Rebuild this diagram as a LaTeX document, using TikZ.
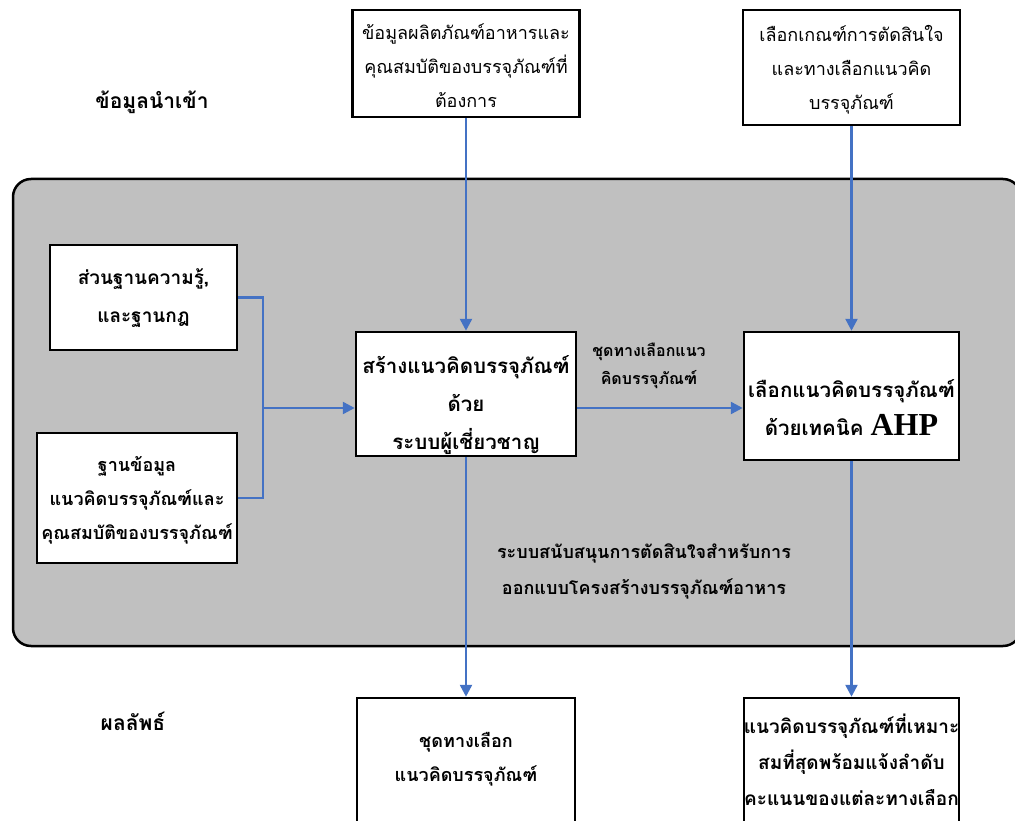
\documentclass[tikz,border=0pt]{standalone}
\usepackage{fontspec}
\setmainfont{Liberation Serif}
\newfontfamily\thai[Script=Thai]{Loma}
\usetikzlibrary{arrows.meta}
\definecolor{flowblue}{RGB}{68,114,196}
\definecolor{panelgray}{RGB}{192,192,192}
\begin{document}
\begin{tikzpicture}[x=1pt,y=-1pt,
  box/.style={draw=black, line width=2.5pt, fill=white, inner sep=0pt},
  txt/.style={align=center, inner sep=0pt, font=\thai\fontsize{18}{34}\selectfont},
  btxt/.style={align=center, inner sep=0pt, font=\thai\bfseries\fontsize{18}{34}\selectfont},
  bigtxt/.style={align=center, inner sep=0pt, font=\thai\bfseries\fontsize{20.5}{38}\selectfont},
  flow/.style={draw=flowblue, line width=2.5pt, -{Triangle[length=12pt,width=12pt]}},
  link/.style={draw=flowblue, line width=2.5pt}]
\useasboundingbox (0,0) rectangle (1015,821);
\begin{scope}
\clip (0,0) rectangle (1015,821);
% panel
\draw[line width=2.5pt, fill=panelgray, rounded corners=18pt] (13,179) rectangle (1021,646);
% boxes
\node[box, minimum width=227pt, minimum height=107pt] (top1) at (466,63.5) {};
\node[box, minimum width=217pt, minimum height=115pt] (top2) at (851.5,67.5) {};
\node[box, minimum width=187pt, minimum height=105pt] (left1) at (143.5,297.5) {};
\node[box, minimum width=200pt, minimum height=130pt] (left2) at (137,498) {};
\node[box, minimum width=220pt, minimum height=124pt] (center) at (466,394) {};
\node[box, minimum width=215pt, minimum height=128pt] (right) at (851.5,396) {};
\node[box, minimum width=218pt, minimum height=150pt] (bot3) at (466,773) {};
\node[box, minimum width=215pt, minimum height=150pt] (bot4) at (851.5,773) {};
% texts in boxes
\node[txt] (top1t) at (466,66) {ข้อมูลผลิตภัณฑ์อาหารและ\\คุณสมบัติของบรรจุภัณฑ์ที่\\ต้องการ};
\node[txt] (top2t) at (851.5,70) {เลือกเกณฑ์การตัดสินใจ\\และทางเลือกแนวคิด\\บรรจุภัณฑ์};
\node[btxt, font=\thai\bfseries\fontsize{19}{38}\selectfont] (left1t) at (143.5,298) {ส่วนฐานความรู้,\\และฐานกฎ};
\node[btxt] (left2t) at (137,500) {ฐานข้อมูล\\แนวคิดบรรจุภัณฑ์และ\\คุณสมบัติของบรรจุภัณฑ์};
\node[bigtxt] (centert) at (466,405) {สร้างแนวคิดบรรจุภัณฑ์\\ด้วย\\ระบบผู้เชี่ยวชาญ};
\node[bigtxt] (rightt) at (851.5,408) {เลือกแนวคิดบรรจุภัณฑ์\\ด้วยเทคนิค {\rmfamily\bfseries\fontsize{32}{36}\selectfont AHP}};
\node[btxt] (bot3t) at (466,759) {ชุดทางเลือก\\แนวคิดบรรจุภัณฑ์};
\node[btxt, font=\thai\bfseries\fontsize{19}{36}\selectfont] (bot4t) at (851.5,760) {แนวคิดบรรจุภัณฑ์ที่เหมาะ\\สมที่สุดพร้อมแจ้งลำดับ\\คะแนนของแต่ละทางเลือก};
% free labels
\node[btxt, font=\thai\bfseries\fontsize{21}{34}\selectfont] (inlabel) at (152,102) {ข้อมูลนำเข้า};
\node[btxt, font=\thai\bfseries\fontsize{21}{34}\selectfont] (outlabel) at (133,721) {ผลลัพธ์};
\node[btxt, font=\thai\bfseries\fontsize{16}{28}\selectfont] (midlabel) at (649,366) {ชุดทางเลือกแนว\\คิดบรรจุภัณฑ์};
\node[btxt, font=\thai\bfseries\fontsize{18}{36}\selectfont] (panellabel) at (644,571) {ระบบสนับสนุนการตัดสินใจสำหรับการ\\ออกแบบโครงสร้างบรรจุภัณฑ์อาหาร};
% connectors
\coordinate (junction) at (263,408);
\draw[link] (left1.east) -- (junction |- left1.east) |- (left2.east);
\draw[flow] (junction) -- (junction -| center.west);
\draw[flow] (center.east |- junction) -- (right.west |- junction);
\draw[flow] (top1.south) -- (center.north);
\draw[flow] (top2.south) -- (right.north);
\draw[flow] (center.south) -- (bot3.north);
\draw[flow] (right.south) -- (bot4.north);
\end{scope}
\end{tikzpicture}
\end{document}
